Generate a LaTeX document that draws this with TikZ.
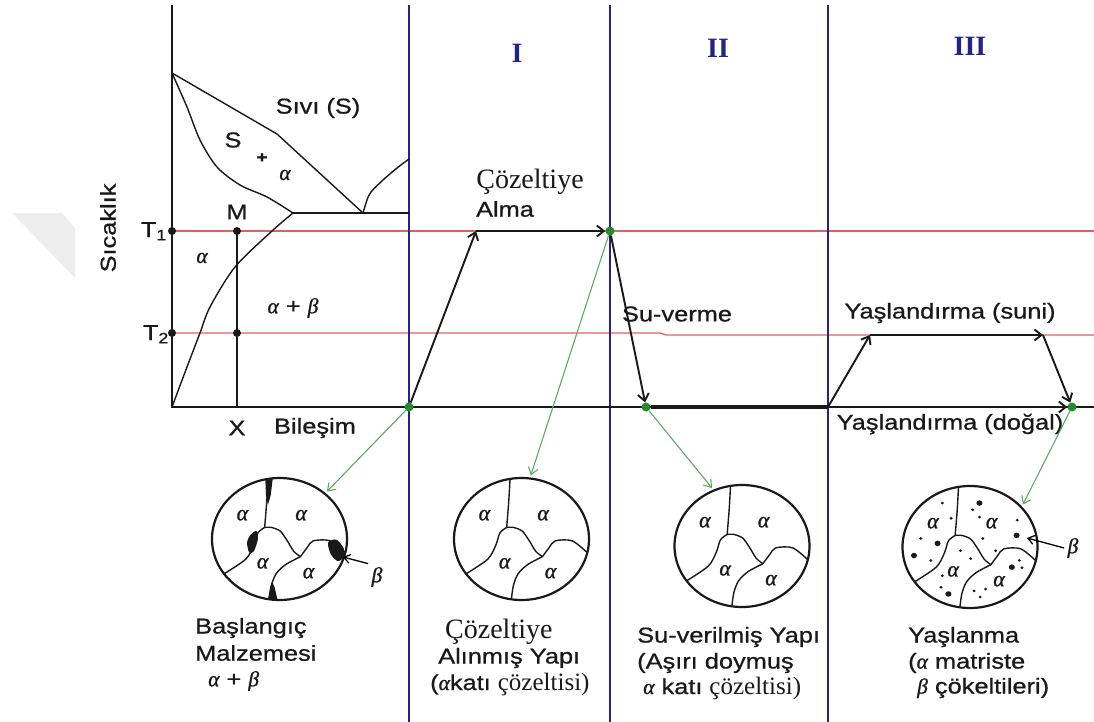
\documentclass[tikz,border=0pt]{standalone}
\usepackage{fontspec}
\setmainfont{Liberation Sans}[FakeStretch=1.18, FakeBold=0.8]
\newfontfamily\tnr{Liberation Serif}
\newfontfamily\grk{Liberation Serif}[FakeBold=1]
\usetikzlibrary{shapes.geometric, arrows.meta}

\newcommand{\galpha}{{\grk\itshape α}}
\newcommand{\gbeta}{{\grk\itshape β}}

\definecolor{navy}{RGB}{35,35,140}
\definecolor{tline}{RGB}{228,95,100}
\definecolor{gline}{RGB}{95,170,95}
\definecolor{gdotc}{RGB}{35,140,40}
\definecolor{ink}{RGB}{25,25,25}

% grain map used for every microstructure (unit = radius, y down)
\tikzset{
  grainline/.style={line width=1.4pt, draw=ink},
  alab/.style={inner sep=0, font=\fontsize{22}{24}\selectfont},
  pics/grains/.style={code={
    \draw[grainline] plot[smooth] coordinates {(-0.17,-0.985) (-0.19,-0.6) (-0.22,-0.19)};
    \draw[grainline] plot[smooth] coordinates {(-0.22,-0.19) (-0.32,-0.1) (-0.38,0.1) (-0.5,0.33) (-0.82,0.57)};
    \draw[grainline] plot[smooth] coordinates {(-0.22,-0.19) (-0.12,-0.19) (0.01,-0.13) (0.11,0.02) (0.21,0.2) (0.31,0.29)};
    \draw[grainline] plot[smooth, tension=0.5] coordinates {(0.31,0.29) (0.41,0.14) (0.5,0.03) (0.75,0.03) (0.97,0.22)};
    \draw[grainline] plot[smooth] coordinates {(0.31,0.29) (0.09,0.42) (-0.05,0.57) (-0.12,0.76) (-0.15,0.99)};
    \node[alab] (-a1) at (-0.55,-0.39) {\galpha};
    \node[alab] (-a2) at (0.32,-0.39) {\galpha};
    \node[alab] (-a3) at (-0.25,0.4) {\galpha};
    \node[alab] (-a4) at (0.43,0.56) {\galpha};
  }}
}

\begin{document}
\begin{tikzpicture}[x=1pt, y=-1pt, font=\fontsize{21.5}{25}\selectfont, text=ink]
\tikzstyle{axis}=[line width=1.8pt, draw=ink]
\tikzstyle{phase}=[line width=1.4pt, draw=ink]
\tikzstyle{stage}=[line width=2.2pt, draw=navy]
\tikzstyle{temp}=[line width=1.3pt, draw=tline]
\tikzstyle{proc}=[-{Straight Barb[length=7pt,width=11pt]}, line width=1.9pt, draw=ink]
\tikzstyle{look}=[-{Straight Barb[length=7pt,width=10pt]}, line width=1.1pt, draw=gline, shorten >=2pt]
\tikzstyle{micro}=[ellipse, draw=ink, line width=2.2pt, minimum width=135pt, minimum height=122pt, inner sep=0]
\tikzstyle{bdot}=[circle, fill=ink, inner sep=0, minimum size=8pt]
\tikzstyle{gdot}=[circle, fill=gdotc, inner sep=0, minimum size=9pt]
\tikzstyle{roman}=[text=navy, font=\tnr\bfseries\fontsize{28}{30}\selectfont]
\useasboundingbox (0,0) rectangle (1094,722);

% 1. Background lines
%%%%%%%%%%%%%%%%%%%%
\fill[black!7] (12,213) -- (62,213) -- (75,228) -- (75,278) -- cycle;
\draw[temp] (172,231) -- (1094,231);
\draw[temp] (172,333) -- (660,333) -- (666,335) -- (1094,335);
\draw[stage] (409,5) -- (409,722);
\draw[stage] (610,5) -- (610,722);
\draw[stage] (828,5) -- (828,722);
\draw[axis] (172,5) -- (172,407) -- (1094,407);

% phase diagram
\draw[phase] (172,73) -- (277,134) -- (363,213);
\draw[phase] plot[smooth] coordinates {(172,73) (187,107) (200,140) (217,167) (240,185) (267,197) (293,213)};
\draw[phase] (293,213) -- (409,213);
\draw[phase] plot[smooth] coordinates {(363,213) (367,200) (371,192) (383,180) (397,168) (409,159)};
\draw[phase] plot[smooth] coordinates {(293,213) (272,231) (235,267) (210,307) (200,333) (187,367) (172,407)};
\draw[line width=2.6pt, draw=ink] (237,231) -- (237,407);

% 2. Nodes
%%%%%%%%%%
\node[bdot] (t1a) at (172,231) {};
\node[bdot] (t1b) at (237,231) {};
\node[bdot] (t2a) at (172,333) {};
\node[bdot] (t2b) at (237,333) {};

\node (sivi) at (318,108) {Sıvı (S)};
\node (sl) at (233,140) {S};
\node (plus) at (262,158) {\fontsize{16}{16}\selectfont\bfseries +};
\node (al1) at (285,175) {\galpha};
\node (mlbl) at (237,212) {M};
\node[anchor=base east, inner sep=0] (t1) at (167,237) {T\textsubscript{1}};
\node[anchor=base east, inner sep=0] (t2) at (169,340) {T\textsubscript{2}};
\node (al2) at (202,258) {\galpha};
\node (ab) at (293,308) {\galpha\ + \gbeta};
\node (xl) at (237,428) {X};
\node (bil) at (315,428) {Bileşim};
\node[rotate=90] (sic) at (108,228) {Sıcaklık};

\node[roman] (r1) at (517,53) {I};
\node[roman] (r2) at (718,48) {II};
\node[roman] (r3) at (970,46) {III};

\node (coz) at (530,182) {\tnr\fontsize{28}{30}\selectfont Çözeltiye};
\node (alma) at (505,209) {Alma};
\node (suv) at (677,314) {Su-verme};
\node (suni) at (950,313) {Yaşlandırma (suni)};
\node (dogal) at (950,424) {Yaşlandırma (doğal)};

% process path
\node[gdot] (p0) at (409,407) {};
\coordinate (p1) at (476,231);
\node[gdot] (p2) at (610,231) {};
\node[gdot] (p3) at (646,407) {};
\coordinate (p4) at (828,407);
\coordinate (p5) at (870,335);
\coordinate (p6) at (1043,335);
\node[gdot] (p7) at (1072,407) {};

% microstructures
\node[micro] (m1) at (279.5,539) {};
\node[micro] (m2) at (521.5,539) {};
\node[micro] (m3) at (742,546) {};
\node[micro] (m4) at (970,547) {};
\pic[xscale=67.5, yscale=61] (g1) at (m1) {grains};
\pic[xscale=67.5, yscale=61] (g2) at (m2) {grains};
\pic[xscale=67.5, yscale=61] (g3) at (m3) {grains};
\pic[xscale=67.5, yscale=61] (g4) at (m4) {grains};

% beta at the grain boundaries
\begin{scope}[shift={(m1)}, xscale=67.5, yscale=61]
  \fill[ink] (-0.21,-0.975) -- (-0.1,-0.99) -- (-0.13,-0.72) -- (-0.17,-0.56) -- (-0.2,-0.72) -- cycle;
  \fill[ink] plot[smooth cycle] coordinates {(-0.34,-0.13) (-0.32,0.0) (-0.38,0.2) (-0.45,0.22) (-0.48,0.05) (-0.42,-0.08)};
  \fill[ink] plot[smooth cycle] coordinates {(0.72,0.06) (0.84,0.01) (0.95,0.15) (0.95,0.3) (0.86,0.36) (0.76,0.25)};
  \fill[ink] (-0.17,0.985) -- (-0.03,0.995) -- (-0.07,0.8) -- (-0.11,0.7) -- (-0.14,0.8) -- cycle;
\end{scope}

% beta precipitates inside the grains
\begin{scope}[shift={(m4)}, xscale=67.5, yscale=61]
  \foreach \px/\py in {-0.41/-0.72, -0.28/-0.47, -0.73/-0.14, -0.58/0.22, 0.04/-0.61, 0.14/-0.49,
                       0.7/-0.44, 0.19/-0.14, 0.38/0.06, -0.14/0.06, 0.01/0.19, -0.41/0.47,
                       -0.43/0.66, 0.06/0.72, 0.15/0.82, 0.23/0.69, 0.73/0.22, 0.77/0.34}
    \fill[ink] (\px,\py) circle[radius=0.024];
  \foreach \px/\py in {-0.48/-0.06, -0.83/0.14, 0.14/-0.72, 0.69/-0.19, -0.32/0.77, 0.62/0.33}
    \fill[ink] (\px,\py) circle[radius=0.045];
\end{scope}

\node (beta1) at (377,577) {\gbeta};
\coordinate (b1tip) at (343,557);
\node (beta4) at (1073,548) {\gbeta};
\coordinate (b4tip) at (1027,538);

% captions
\node[anchor=west, inner sep=0] (bas1) at (195,628) {Başlangıç};
\node[anchor=west, inner sep=0] (bas2) at (195,653) {Malzemesi};
\node[anchor=west, inner sep=0] (bas3) at (208,681) {\galpha\ + \gbeta};
\node[anchor=west, inner sep=0] (coz1) at (445,632) {\tnr\fontsize{28}{30}\selectfont Çözeltiye};
\node[anchor=west, inner sep=0] (coz2) at (438,658) {Alınmış Yapı};
\node[anchor=west, inner sep=0] (coz3) at (430,684) {(\galpha katı {\tnr\fontsize{25}{28}\selectfont çözeltisi)}};
\node[anchor=west, inner sep=0] (su1) at (637,637) {Su-verilmiş Yapı};
\node[anchor=west, inner sep=0] (su2) at (637,663) {(Aşırı doymuş};
\node[anchor=west, inner sep=0] (su3) at (643,688) {\galpha\ katı {\tnr\fontsize{25}{28}\selectfont çözeltisi)}};
\node[anchor=west, inner sep=0] (yas1) at (908,637) {Yaşlanma};
\node[anchor=west, inner sep=0] (yas2) at (908,663) {(\galpha\ matriste};
\node[anchor=west, inner sep=0] (yas3) at (917,688) {\gbeta\ çökeltileri)};

% 3. Arrows
%%%%%%%%%%%
\draw[proc] (p0) -- (p1);
\draw[proc] (p1) -- (p2);
\draw[proc] (p2) -- (p3);
\draw[line width=3.4pt, draw=ink] (p3) -- (p4);
\draw[proc] (p4) -- (p5);
\draw[proc] (p5) -- (p6);
\draw[proc] (p6) -- (p7);
\draw[proc] (p4) -- (p7);

\draw[look] (p0) -- (m1.45);
\draw[look] (p2) -- (m2.82);
\draw[look] (p3) -- (m3.117);
\draw[look] (p7) -- (m4.38);

\draw[-{Straight Barb[length=6pt,width=9pt]}, line width=1.3pt] (beta1.north west) -- (b1tip);
\draw[-{Straight Barb[length=6pt,width=9pt]}, line width=1.3pt] (beta4.west) -- (b4tip);

\end{tikzpicture}
\end{document}
